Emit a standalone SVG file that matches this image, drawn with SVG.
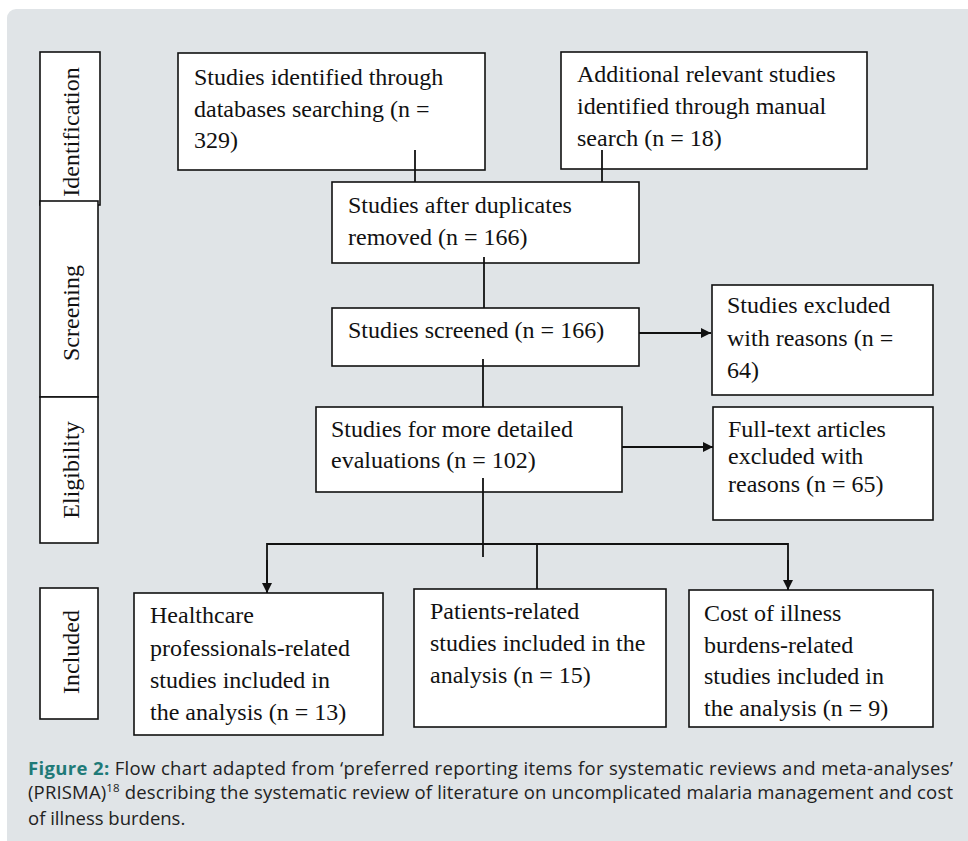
<svg xmlns="http://www.w3.org/2000/svg" width="968" height="841" viewBox="0 0 968 841">
<style>
.box{fill:#fff;stroke:#111;stroke-width:1.6}
.t{font-family:"Liberation Serif","Times New Roman",serif;font-size:24px;fill:#111}
.ln{stroke:#111;stroke-width:1.8;fill:none}
.cap{font-family:"Open Sans","Noto Sans",sans-serif;font-size:18.5px;fill:#222}
.fig{fill:#1f7a78;font-weight:bold}
</style>
<defs>
<marker id="ah" markerUnits="userSpaceOnUse" markerWidth="10" markerHeight="10" refX="10" refY="5" orient="auto">
<path d="M0,0 L10,5 L0,10 z" fill="#111"/>
</marker>
</defs>
<rect x="7" y="9" width="975" height="850" rx="9" fill="#e0e4e7"/>
<g id="stage-identification">
<rect class="box" x="40" y="52" width="60" height="153"/>
<text class="t" transform="translate(79,132) rotate(-90)" text-anchor="middle">Identification</text>
</g>
<g id="stage-screening">
<rect class="box" x="40" y="201" width="58" height="196"/>
<text class="t" transform="translate(79,313) rotate(-90)" text-anchor="middle">Screening</text>
</g>
<g id="stage-eligibility">
<rect class="box" x="40" y="397" width="58" height="146"/>
<text class="t" transform="translate(79,470) rotate(-90)" text-anchor="middle">Eligibility</text>
</g>
<g id="stage-included">
<rect class="box" x="40" y="588" width="58" height="131"/>
<text class="t" transform="translate(79,652) rotate(-90)" text-anchor="middle">Included</text>
</g>
<g id="n-databases">
<rect class="box" x="178" y="53" width="307" height="117"/>
<text class="t" x="194" y="85">Studies identified through</text>
<text class="t" x="194" y="117">databases searching (n =</text>
<text class="t" x="194" y="148">329)</text>
</g>
<g id="n-manual">
<rect class="box" x="561" y="52" width="306" height="117"/>
<text class="t" x="577" y="82">Additional relevant studies</text>
<text class="t" x="577" y="114">identified through manual</text>
<text class="t" x="577" y="146">search (n = 18)</text>
</g>
<g id="n-duplicates">
<rect class="box" x="332" y="182" width="307" height="81"/>
<text class="t" x="348" y="213">Studies after duplicates</text>
<text class="t" x="348" y="245">removed (n = 166)</text>
</g>
<g id="n-screened">
<rect class="box" x="332" y="308" width="307" height="58"/>
<text class="t" x="348" y="338">Studies screened (n = 166)</text>
</g>
<g id="n-excluded">
<rect class="box" x="712" y="285" width="221" height="110"/>
<text class="t" x="727" y="313">Studies excluded</text>
<text class="t" x="727" y="346">with reasons (n =</text>
<text class="t" x="727" y="378">64)</text>
</g>
<g id="n-detailed">
<rect class="box" x="316" y="407" width="306" height="85"/>
<text class="t" x="331" y="437">Studies for more detailed</text>
<text class="t" x="331" y="468">evaluations (n = 102)</text>
</g>
<g id="n-fulltext">
<rect class="box" x="713" y="407" width="220" height="113"/>
<text class="t" x="728" y="437">Full-text articles</text>
<text class="t" x="728" y="464">excluded with</text>
<text class="t" x="728" y="492">reasons (n = 65)</text>
</g>
<g id="n-healthcare">
<rect class="box" x="134" y="593" width="249" height="142"/>
<text class="t" x="150" y="623">Healthcare</text>
<text class="t" x="150" y="656">professionals-related</text>
<text class="t" x="150" y="688">studies included in</text>
<text class="t" x="150" y="720">the analysis (n = 13)</text>
</g>
<g id="n-patients">
<rect class="box" x="414" y="589" width="252" height="138"/>
<text class="t" x="430" y="619">Patients-related</text>
<text class="t" x="430" y="651">studies included in the</text>
<text class="t" x="430" y="683">analysis (n = 15)</text>
</g>
<g id="n-cost">
<rect class="box" x="689" y="590" width="244" height="137"/>
<text class="t" x="704" y="621">Cost of illness</text>
<text class="t" x="704" y="653">burdens-related</text>
<text class="t" x="704" y="684">studies included in</text>
<text class="t" x="704" y="716">the analysis (n = 9)</text>
</g>
<g id="connectors">
<line class="ln" x1="415" y1="150" x2="415" y2="182"/>
<line class="ln" x1="602" y1="150" x2="602" y2="182"/>
<line class="ln" x1="484" y1="257" x2="484" y2="308"/>
<line class="ln" x1="639" y1="333" x2="711" y2="333" marker-end="url(#ah)"/>
<line class="ln" x1="483" y1="359" x2="483" y2="407"/>
<line class="ln" x1="622" y1="447" x2="713" y2="447" marker-end="url(#ah)"/>
<line class="ln" x1="483" y1="478" x2="483" y2="557"/>
<polyline class="ln" points="267,593 267,544 788,544 788,590"/>
<line class="ln" x1="267" y1="560" x2="267" y2="593" marker-end="url(#ah)"/>
<line class="ln" x1="788" y1="560" x2="788" y2="590" marker-end="url(#ah)"/>
<line class="ln" x1="537" y1="544" x2="537" y2="589"/>
</g>
<g id="caption">
<text class="cap" x="28" y="775" textLength="925" lengthAdjust="spacing"><tspan class="fig">Figure 2:</tspan> Flow chart adapted from ‘preferred reporting items for systematic reviews and meta-analyses’</text>
<text class="cap" x="28" y="799" textLength="925" lengthAdjust="spacing">(PRISMA)<tspan font-size="11.5" dy="-7">18</tspan><tspan dy="7"> describing the systematic review of literature on uncomplicated malaria management and cost</tspan></text>
<text class="cap" x="28" y="825">of illness burdens.</text>
</g>
</svg>
